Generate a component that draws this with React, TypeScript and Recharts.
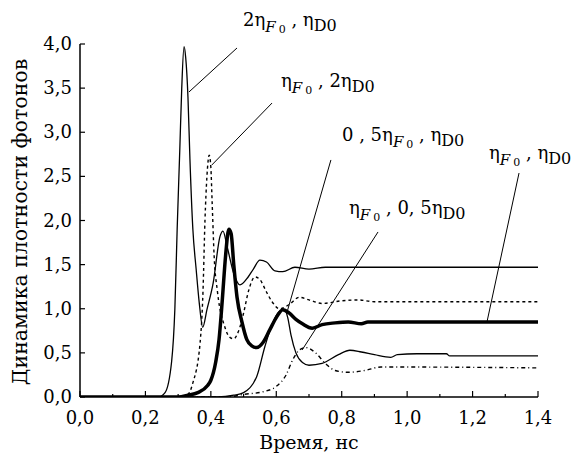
import React from 'react';
import { LineChart, Line, XAxis, YAxis, ReferenceLine } from 'recharts';

// x (ns), y (photon density)
const seriesF2D1 = [
  { x: 0, y: 0 }, { x: 0.24, y: 0 }, { x: 0.26, y: 0.05 }, { x: 0.28, y: 0.4 }, { x: 0.29, y: 1.0 },
  { x: 0.297, y: 1.9 }, { x: 0.305, y: 2.8 }, { x: 0.311, y: 3.5 }, { x: 0.318, y: 3.97 }, { x: 0.323, y: 3.85 },
  { x: 0.33, y: 3.4 }, { x: 0.336, y: 2.7 }, { x: 0.345, y: 1.9 }, { x: 0.355, y: 1.45 }, { x: 0.365, y: 1.05 },
  { x: 0.375, y: 0.79 }, { x: 0.388, y: 0.99 }, { x: 0.407, y: 1.29 }, { x: 0.428, y: 1.82 }, { x: 0.437, y: 1.88 },
  { x: 0.45, y: 1.7 }, { x: 0.47, y: 1.4 }, { x: 0.489, y: 1.27 }, { x: 0.514, y: 1.36 }, { x: 0.53, y: 1.45 },
  { x: 0.55, y: 1.55 }, { x: 0.57, y: 1.53 }, { x: 0.596, y: 1.43 }, { x: 0.62, y: 1.42 }, { x: 0.657, y: 1.47 },
  { x: 0.7, y: 1.45 }, { x: 0.75, y: 1.47 }, { x: 1.4, y: 1.47 },
];
const seriesF1D2 = [
  { x: 0, y: 0 }, { x: 0.3, y: 0 }, { x: 0.33, y: 0.03 }, { x: 0.345, y: 0.16 }, { x: 0.367, y: 0.61 },
  { x: 0.376, y: 1.2 }, { x: 0.382, y: 2.0 }, { x: 0.388, y: 2.5 }, { x: 0.395, y: 2.74 }, { x: 0.4, y: 2.6 },
  { x: 0.404, y: 2.2 }, { x: 0.41, y: 1.6 }, { x: 0.42, y: 1.2 }, { x: 0.443, y: 0.79 }, { x: 0.46, y: 0.67 },
  { x: 0.47, y: 0.66 }, { x: 0.485, y: 0.75 }, { x: 0.5, y: 0.95 }, { x: 0.515, y: 1.2 }, { x: 0.535, y: 1.36 },
  { x: 0.55, y: 1.33 }, { x: 0.57, y: 1.19 }, { x: 0.587, y: 1.08 }, { x: 0.61, y: 1.0 }, { x: 0.64, y: 1.05 },
  { x: 0.67, y: 1.13 }, { x: 0.7, y: 1.1 }, { x: 0.74, y: 1.06 }, { x: 0.8, y: 1.09 }, { x: 0.85, y: 1.1 },
  { x: 0.9, y: 1.08 }, { x: 1.4, y: 1.08 },
];
const seriesF05D1 = [
  { x: 0, y: 0 }, { x: 0.42, y: 0 }, { x: 0.47, y: 0.02 }, { x: 0.5, y: 0.05 }, { x: 0.54, y: 0.23 },
  { x: 0.565, y: 0.57 }, { x: 0.59, y: 0.85 }, { x: 0.61, y: 0.97 }, { x: 0.625, y: 0.99 }, { x: 0.635, y: 0.9 },
  { x: 0.645, y: 0.7 }, { x: 0.66, y: 0.5 }, { x: 0.68, y: 0.39 }, { x: 0.7, y: 0.36 }, { x: 0.74, y: 0.38 },
  { x: 0.79, y: 0.48 }, { x: 0.825, y: 0.53 }, { x: 0.86, y: 0.51 }, { x: 0.9, y: 0.48 }, { x: 0.95, y: 0.45 },
  { x: 0.97, y: 0.48 }, { x: 1.03, y: 0.49 }, { x: 1.12, y: 0.49 }, { x: 1.13, y: 0.465 }, { x: 1.4, y: 0.465 },
];
const seriesF1D05 = [
  { x: 0, y: 0 }, { x: 0.45, y: 0 }, { x: 0.5, y: 0.03 }, { x: 0.56, y: 0.06 }, { x: 0.6, y: 0.12 },
  { x: 0.63, y: 0.25 }, { x: 0.65, y: 0.42 }, { x: 0.67, y: 0.53 }, { x: 0.69, y: 0.56 }, { x: 0.72, y: 0.5 },
  { x: 0.75, y: 0.38 }, { x: 0.78, y: 0.3 }, { x: 0.82, y: 0.28 }, { x: 0.87, y: 0.3 }, { x: 0.92, y: 0.34 },
  { x: 0.95, y: 0.34 }, { x: 1.4, y: 0.33 },
];
const seriesF1D1 = [
  { x: 0, y: 0 }, { x: 0.3, y: 0 }, { x: 0.33, y: 0.02 }, { x: 0.36, y: 0.05 }, { x: 0.39, y: 0.13 },
  { x: 0.4, y: 0.19 }, { x: 0.415, y: 0.4 }, { x: 0.425, y: 0.65 }, { x: 0.435, y: 1.1 }, { x: 0.445, y: 1.6 },
  { x: 0.455, y: 1.9 }, { x: 0.462, y: 1.85 }, { x: 0.47, y: 1.5 }, { x: 0.48, y: 1.13 }, { x: 0.495, y: 0.85 },
  { x: 0.51, y: 0.65 }, { x: 0.525, y: 0.58 }, { x: 0.54, y: 0.56 }, { x: 0.56, y: 0.62 }, { x: 0.58, y: 0.76 },
  { x: 0.6, y: 0.9 }, { x: 0.62, y: 0.99 }, { x: 0.64, y: 0.95 }, { x: 0.66, y: 0.88 }, { x: 0.68, y: 0.83 },
  { x: 0.71, y: 0.78 }, { x: 0.74, y: 0.82 }, { x: 0.78, y: 0.84 }, { x: 0.82, y: 0.85 }, { x: 0.86, y: 0.83 },
  { x: 0.88, y: 0.85 }, { x: 1.4, y: 0.85 },
];

const xTicks = [0, 0.1, 0.2, 0.3, 0.4, 0.5, 0.6, 0.7, 0.8, 0.9, 1.0, 1.1, 1.2, 1.3, 1.4];
const yTicks = [0, 0.5, 1.0, 1.5, 2.0, 2.5, 3.0, 3.5, 4.0];

// leader lines (data coords)
const leaders = [
  [{ x: 0.333, y: 3.456 }, { x: 0.48, y: 3.955 }],
  [{ x: 0.403, y: 2.629 }, { x: 0.587, y: 3.331 }],
  [{ x: 0.767, y: 2.686 }, { x: 0.633, y: 0.963 }],
  [{ x: 0.911, y: 1.87 }, { x: 0.679, y: 0.533 }],
  [{ x: 1.342, y: 2.538 }, { x: 1.244, y: 0.85 }],
];

const xTitle = 'Время, нс';
const yTitle = 'Динамика плотности фотонов';

const FONT = '"DejaVu Serif", "Liberation Serif", serif';
const fmt = (v: number) => v.toFixed(1).replace('.', ',');

const XTick = (props: any) => {
  const { x, y, payload } = props;
  const v = payload.value;
  const major = Math.round(v * 10) % 2 === 0;
  return (
    <g>
      <line x1={x} x2={x} y1={y} y2={y - (major ? 6 : 3)} stroke="#000" strokeWidth={1.2} />
      {major && (
        <text x={x} y={y + 27} textAnchor="middle" fontFamily={FONT} fontSize={18} fill="#000">
          {fmt(v)}
        </text>
      )}
    </g>
  );
};

const YTick = (props: any) => {
  const { x, y, payload } = props;
  return (
    <g>
      <line x1={x} x2={x + 5} y1={y} y2={y} stroke="#000" strokeWidth={1.2} />
      <text x={x - 8} y={y + 6} textAnchor="end" fontFamily={FONT} fontSize={18} fill="#000">
        {fmt(payload.value)}
      </text>
    </g>
  );
};

const EtaLabel = ({ x, y, pre, mid }: { x: number; y: number; pre: string; mid: string }) => (
  <text x={x} y={y} fontFamily={FONT} fontSize={18} fill="#000">
    {pre}η
    <tspan fontStyle="italic" fontSize={15} dy={6}>F</tspan>
    <tspan fontSize={11} dy={1} dx={3}>0</tspan>
    <tspan fontSize={18} dy={-7}>{mid}η</tspan>
    <tspan fontSize={16} dy={5}>D0</tspan>
  </text>
);

const labels = [
  { x: 243, y: 26, pre: '2', mid: ' , ' },
  { x: 281, y: 87, pre: '', mid: ' , 2' },
  { x: 342, y: 141, pre: '0 , 5', mid: ' , ' },
  { x: 489, y: 159, pre: '', mid: ' , ' },
  { x: 349, y: 214, pre: '', mid: ' , 0, 5' },
];

export default function App() {
  return (
    <div style={{ position: 'absolute', left: 0, top: 0, width: 574, height: 454, background: '#fff' }}>
      <LineChart width={574} height={454} margin={{ top: 44, right: 36, bottom: 0, left: 0 }}>
        <XAxis
          type="number"
          dataKey="x"
          domain={[0, 1.4]}
          ticks={xTicks}
          interval={0}
          height={57}
          tickSize={0}
          tickMargin={0}
          tickLine={false}
          tick={<XTick />}
          axisLine={{ stroke: '#000', strokeWidth: 1.5 }}
          allowDataOverflow
        />
        <YAxis
          type="number"
          domain={[0, 4]}
          ticks={yTicks}
          interval={0}
          width={80}
          tickSize={0}
          tickMargin={0}
          tickLine={false}
          tick={<YTick />}
          axisLine={{ stroke: '#000', strokeWidth: 1.5 }}
          allowDataOverflow
        />
        {leaders.map((seg, i) => (
          <ReferenceLine key={i} segment={seg} stroke="#000" strokeWidth={1} ifOverflow="visible" />
        ))}
        <Line data={seriesF2D1} dataKey="y" type="monotone" dot={false} stroke="#000" strokeWidth={1.3} isAnimationActive={false} />
        <Line data={seriesF1D2} dataKey="y" type="monotone" dot={false} stroke="#000" strokeWidth={1.4} strokeDasharray="3 3" isAnimationActive={false} />
        <Line data={seriesF05D1} dataKey="y" type="monotone" dot={false} stroke="#000" strokeWidth={1.3} isAnimationActive={false} />
        <Line data={seriesF1D05} dataKey="y" type="monotone" dot={false} stroke="#000" strokeWidth={1.4} strokeDasharray="4 3 1 3" isAnimationActive={false} />
        <Line data={seriesF1D1} dataKey="y" type="monotone" dot={false} stroke="#000" strokeWidth={3.5} isAnimationActive={false} />
      </LineChart>
      <svg width={574} height={454} style={{ position: 'absolute', left: 0, top: 0, pointerEvents: 'none' }}>
        {labels.map((l, i) => (
          <EtaLabel key={i} {...l} />
        ))}
        <text x={309} y={449} textAnchor="middle" fontFamily={FONT} fontSize={19} fill="#000">
          {xTitle}
        </text>
        <text
          x={0}
          y={0}
          transform="translate(27,222) rotate(-90)"
          textAnchor="middle"
          fontFamily={FONT}
          fontSize={20.5}
          fill="#000"
        >
          {yTitle}
        </text>
      </svg>
    </div>
  );
}
